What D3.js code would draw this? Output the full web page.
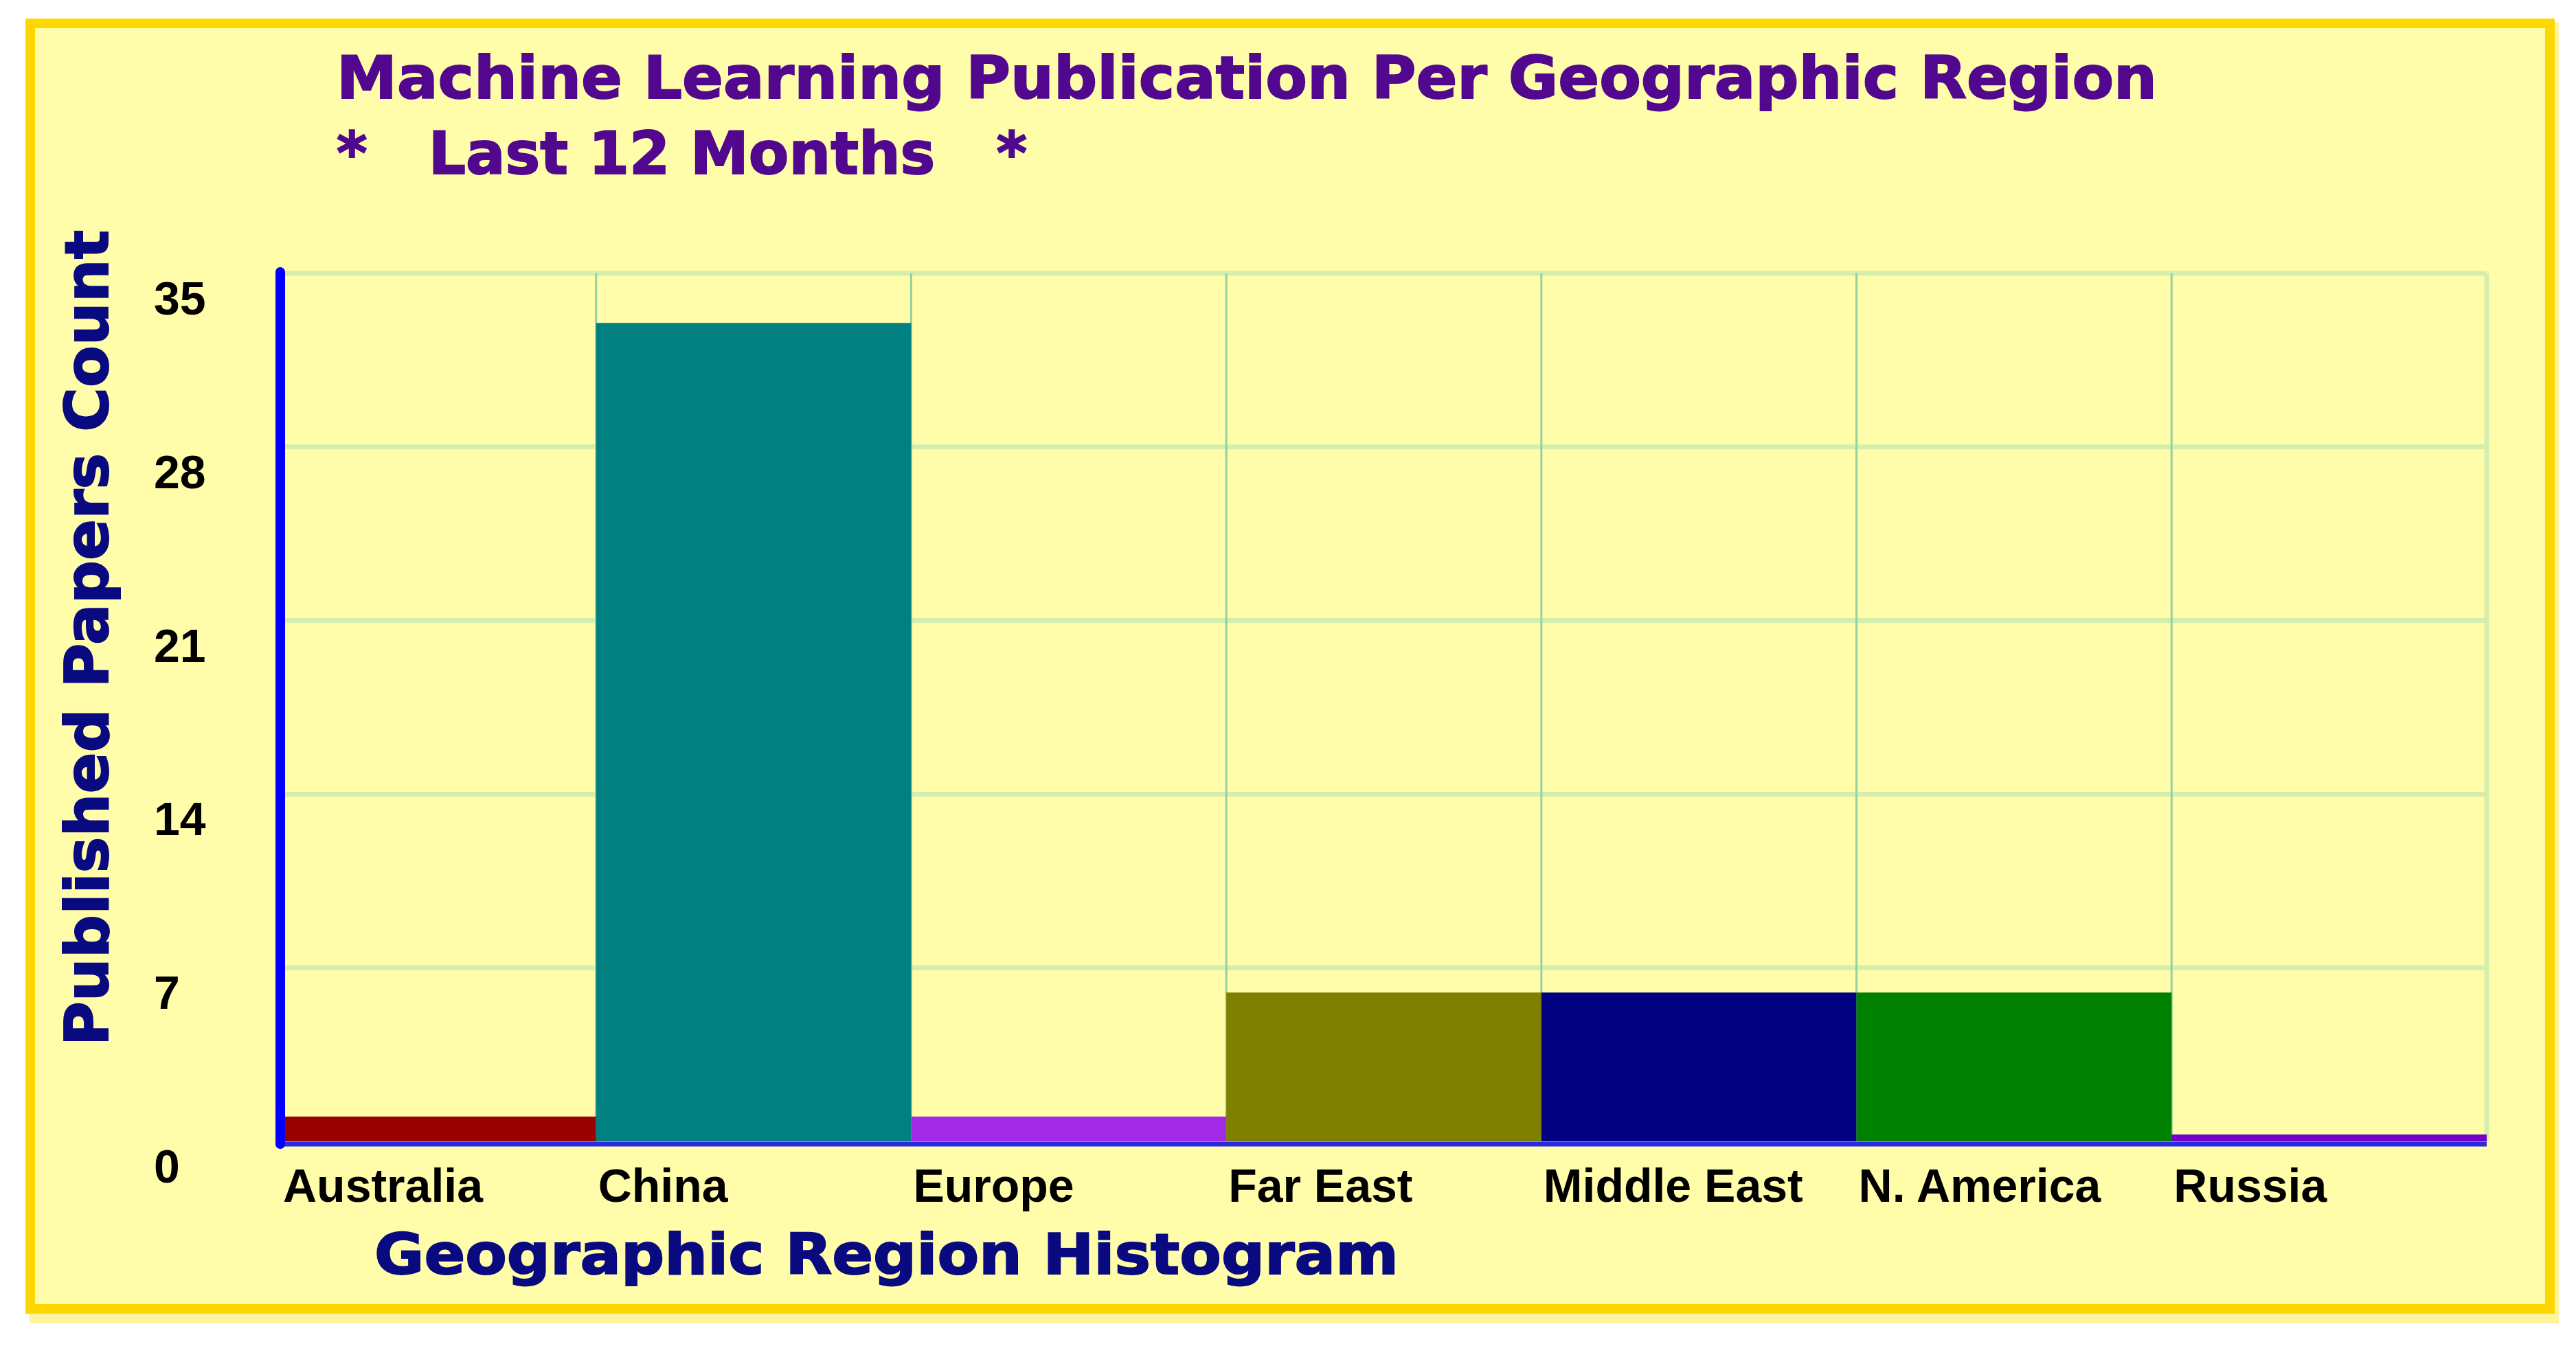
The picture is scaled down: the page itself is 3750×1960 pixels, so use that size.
<!DOCTYPE html>
<html>
<head>
<meta charset="utf-8">
<script src="https://cdn.jsdelivr.net/npm/d3@7/dist/d3.min.js"></script>
<style>
  body { margin: 0; background: #ffffff; }
  text { white-space: pre; }
</style>
</head>
<body>
<div id="chart"></div>
<script>
// chart data
var regions = ["Australia", "China", "Europe", "Far East", "Middle East", "N. America", "Russia"];
var paperCounts = [1, 33, 1, 6, 6, 6, 0];
var barColors = ["#990000", "#008080", "#a22ae6", "#808000", "#000080", "#008000", "#7200c8"];
var yTicks = [0, 7, 14, 21, 28, 35];

var width = 3750,
    height = 1960;

var svg = d3.select("#chart").append("svg")
    .attr("width", width)
    .attr("height", height);

// panel with gold frame (and a faint shadow)
svg.append("rect")
    .attr("x", 50).attr("y", 40)
    .attr("width", 3668).attr("height", 1880)
    .attr("fill", "none")
    .attr("stroke", "#fff3a0")
    .attr("stroke-width", 14);
svg.append("rect")
    .attr("x", 44).attr("y", 34)
    .attr("width", 3668).attr("height", 1872)
    .attr("fill", "#fffdaa")
    .attr("stroke", "#ffd700")
    .attr("stroke-width", 14);

var x = d3.scaleBand()
    .domain(regions)
    .range([409, 3620])
    .padding(0);

var y = d3.scaleLinear()
    .domain([0, 35])
    .range([1662, 398]);

// grid
var grid = svg.append("g");
grid.selectAll("line.h")
    .data(yTicks.filter(function(d) { return d > 0; }))
    .enter().append("line")
    .attr("class", "h")
    .attr("x1", x.range()[0]).attr("x2", x.range()[1])
    .attr("y1", function(d) { return y(d); })
    .attr("y2", function(d) { return y(d); })
    .attr("stroke", "#d5eeae")
    .attr("stroke-width", 7);

grid.selectAll("line.v")
    .data(regions.slice(1))
    .enter().append("line")
    .attr("class", "v")
    .attr("x1", function(d) { return x(d); })
    .attr("x2", function(d) { return x(d); })
    .attr("y1", y(35)).attr("y2", y(0))
    .attr("stroke", "#92d1a0")
    .attr("stroke-width", 3);

grid.append("line")
    .attr("x1", x.range()[1]).attr("x2", x.range()[1])
    .attr("y1", y(35)).attr("y2", y(0))
    .attr("stroke", "#d5eeae")
    .attr("stroke-width", 7);

// bars (zero counts still get a thin stub like the original)
svg.append("g").selectAll("rect")
    .data(regions)
    .enter().append("rect")
    .attr("x", function(d) { return x(d); })
    .attr("width", x.bandwidth())
    .attr("y", function(d, i) { return Math.min(y(paperCounts[i]), y(0) - 10); })
    .attr("height", function(d, i) { return Math.max(y(0) - y(paperCounts[i]), 10); })
    .attr("fill", function(d, i) { return barColors[i]; });

// axes lines
svg.append("line")
    .attr("x1", x.range()[0]).attr("x2", x.range()[1])
    .attr("y1", y(0) + 4).attr("y2", y(0) + 4)
    .attr("stroke", "#2a2ae0")
    .attr("stroke-width", 7);

svg.append("line")
    .attr("x1", 408).attr("x2", 408)
    .attr("y1", y(35) - 2).attr("y2", y(0) + 4)
    .attr("stroke", "#0000ff")
    .attr("stroke-width", 14)
    .attr("stroke-linecap", "round");

// y tick labels (left aligned, sitting below their grid line)
svg.append("g").selectAll("text")
    .data(yTicks)
    .enter().append("text")
    .attr("x", 224)
    .attr("y", function(d) { return y(d) + 60; })
    .attr("font-family", "Liberation Sans, Arial, sans-serif")
    .attr("font-weight", "bold")
    .attr("font-size", 68)
    .attr("fill", "#000")
    .text(function(d) { return d; });

// category labels
svg.append("g").selectAll("text")
    .data(regions)
    .enter().append("text")
    .attr("x", function(d) { return x(d) + 3; })
    .attr("y", 1750)
    .attr("font-family", "Liberation Sans, Arial, sans-serif")
    .attr("font-weight", "bold")
    .attr("font-size", 68)
    .attr("fill", "#000")
    .text(function(d) { return d; });

// titles
function boldText(sel, color) {
    return sel.attr("font-family", "DejaVu Sans, Verdana, sans-serif")
        .attr("font-weight", "bold")
        .attr("fill", color)
        .attr("stroke", color)
        .attr("stroke-width", 2)
        .attr("lengthAdjust", "spacingAndGlyphs");
}

boldText(svg.append("text"), "#52088e")
    .attr("x", 490).attr("y", 143)
    .attr("font-size", 86)
    .attr("textLength", 2650)
    .text("Machine Learning Publication Per Geographic Region");

boldText(svg.append("text"), "#52088e")
    .attr("x", 490).attr("y", 253)
    .attr("font-size", 86)
    .attr("textLength", 1005)
    .text("*   Last 12 Months   *");

boldText(svg.append("text"), "#0a0a80")
    .attr("x", 545).attr("y", 1855)
    .attr("font-size", 82)
    .attr("textLength", 1491)
    .text("Geographic Region Histogram");

boldText(svg.append("text"), "#0a0a80")
    .attr("transform", "translate(157,1523) rotate(-90)")
    .attr("font-size", 88)
    .attr("textLength", 1188)
    .text("Published Papers Count");
</script>
</body>
</html>
